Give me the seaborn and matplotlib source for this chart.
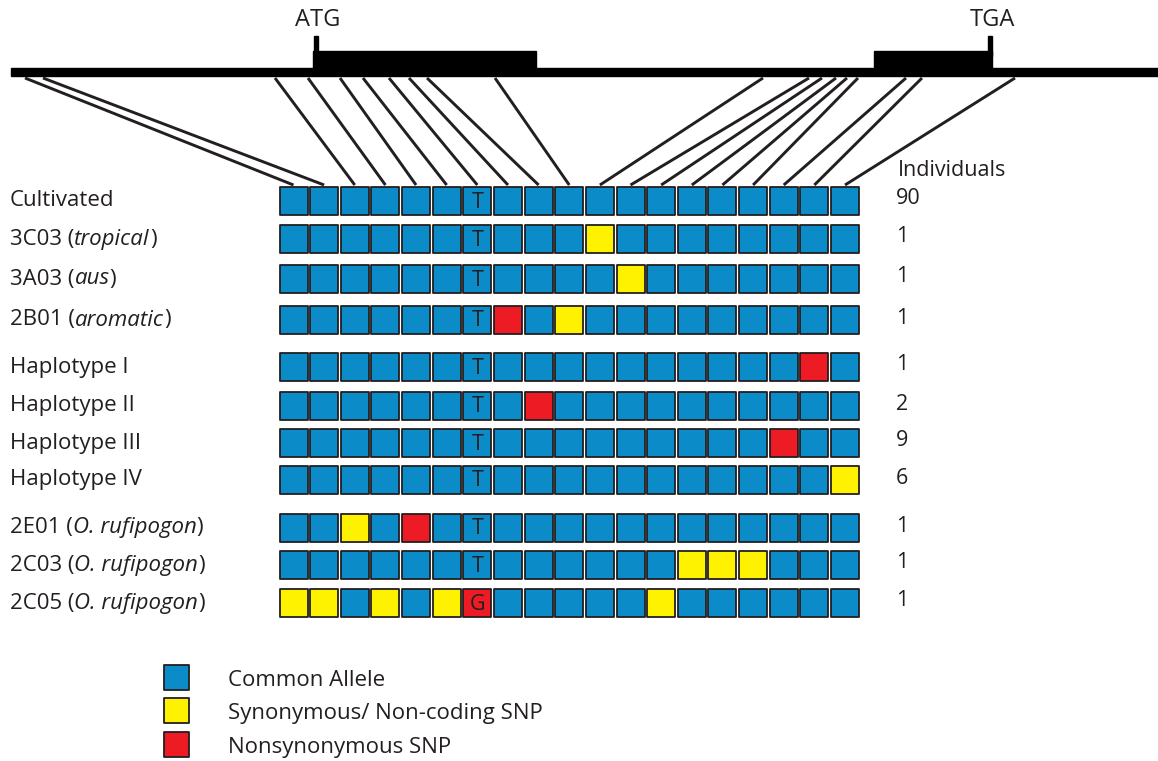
import numpy as np
import pandas as pd
import matplotlib
matplotlib.use("Agg")
import matplotlib.pyplot as plt
from matplotlib.patches import Rectangle
import seaborn as sns

# ---------------- data ----------------
row_labels = [
    [("Cultivated", "normal")],
    [("3C03 (", "normal"), ("tropical", "italic"), (")", "normal")],
    [("3A03 (", "normal"), ("aus", "italic"), (")", "normal")],
    [("2B01 (", "normal"), ("aromatic", "italic"), (")", "normal")],
    [("Haplotype I", "normal")],
    [("Haplotype II", "normal")],
    [("Haplotype III", "normal")],
    [("Haplotype IV", "normal")],
    [("2E01 (", "normal"), ("O. rufipogon", "italic"), (")", "normal")],
    [("2C03 (", "normal"), ("O. rufipogon", "italic"), (")", "normal")],
    [("2C05 (", "normal"), ("O. rufipogon", "italic"), (")", "normal")],
]
individuals = [90, 1, 1, 1, 1, 2, 9, 6, 1, 1, 1]
n_sites = 19
# synonymous / non-coding SNP sites (column index) per row
syn_sites = [[], [10], [11], [9], [], [], [], [18], [2], [13, 14, 15], [0, 1, 3, 5, 12]]
# nonsynonymous SNP sites per row
nonsyn_sites = [[], [], [], [7], [17], [8], [16], [], [4], [], [6]]
base_site = 6
bases = ["T", "T", "T", "T", "T", "T", "T", "T", "T", "T", "G"]
# position of each SNP site along the gene model (pixel scale of the gene line)
site_gene_pos = [25, 43, 275, 308, 340, 363, 389, 409, 427, 495,
                 763, 809, 822, 836, 847, 858, 906, 922, 1015]
exon_start = [313, 874]
exon_end = [536, 992]
codon_labels = ["ATG", "TGA"]
codon_pos = [316, 990]
legend_labels = ["Common Allele", "Synonymous/ Non-coding SNP", "Nonsynonymous SNP"]
states = ["common", "syn", "nonsyn"]

# ---------------- style ----------------
BLUE = "#0B8BC8"
YELLOW = "#FFF200"
RED = "#ED1C24"
DARK = "#231F20"
palette = {"common": BLUE, "syn": YELLOW, "nonsyn": RED}

sns.set_theme(style="white")
plt.rcParams["font.family"] = ["Open Sans", "DejaVu Sans"]

W, H = 1158, 761
fig = plt.figure(figsize=(W / 100, H / 100), dpi=100)
ax = fig.add_axes([0, 0, 1, 1])

# layout
row_y = [201, 239, 279, 320, 367, 406, 443, 480, 528, 565, 603]
col_x0, col_pitch = 293.5, 30.64
cell_px = 28.0
cell_pt = cell_px * 72 / 100
LBL_FS = 16

def col_x(i):
    return col_x0 + col_pitch * i

# build long-form table of cells
recs = []
for r in range(len(row_y)):
    for c in range(n_sites):
        st = "common"
        if c in syn_sites[r]:
            st = "syn"
        if c in nonsyn_sites[r]:
            st = "nonsyn"
        recs.append({"row": r, "site": c, "x": col_x(c), "y": row_y[r], "state": st})
df = pd.DataFrame(recs)

sns.scatterplot(data=df, x="x", y="y", hue="state", palette=palette, marker="s",
                s=cell_pt ** 2, edgecolor=DARK, linewidth=1.3, legend=False,
                ax=ax, zorder=3)

# base letters
for r, b in enumerate(bases):
    ax.text(col_x(base_site), row_y[r] + 1, b, ha="center", va="center",
            fontsize=15.5, color=DARK, zorder=4)

# gene model
line_y = 72
ax.add_patch(Rectangle((11, line_y - 4), W - 11, 8, color="black", zorder=2))
for s, e in zip(exon_start, exon_end):
    ax.add_patch(Rectangle((s, 51), e - s, line_y - 51, color="black", zorder=2))
for lab, p in zip(codon_labels, codon_pos):
    ax.add_patch(Rectangle((p - 2, 36), 4, 20, color="black", zorder=2))
    ax.text(p + 2, 20, lab, ha="center", va="center", fontsize=17, color=DARK)

# connectors
for c, gp in enumerate(site_gene_pos):
    ax.plot([gp, col_x(c)], [78, 185], color=DARK, lw=2.1, solid_capstyle="butt", zorder=1)

# row labels (mixed roman / italic)
for r, parts in enumerate(row_labels):
    t = ax.text(10, row_y[r], parts[0][0], style=parts[0][1], ha="left", va="center",
                fontsize=LBL_FS, color=DARK)
    for s, stl in parts[1:]:
        t = ax.annotate(s, xy=(1, 0), xycoords=t, xytext=(0, 0), textcoords="offset points",
                        ha="left", va="bottom", style=stl, fontsize=LBL_FS, color=DARK)

# individuals
ax.text(898, 171, "Individuals", ha="left", va="center", fontsize=15.5, color=DARK)
for r, n in enumerate(individuals):
    ax.text(896, row_y[r] - 2, str(n), ha="left", va="center", fontsize=15.5, color=DARK)

# legend
leg_y = [677, 710, 744]
leg_df = pd.DataFrame({"x": [176] * 3, "y": leg_y, "state": states})
sns.scatterplot(data=leg_df, x="x", y="y", hue="state", palette=palette, marker="s",
                s=(25 * 72 / 100) ** 2, edgecolor=DARK, linewidth=1.3, legend=False,
                ax=ax, zorder=3)
for lab, y in zip(legend_labels, leg_y):
    ax.text(228, y + 3, lab, ha="left", va="center", fontsize=16, color=DARK)

ax.set_xlim(0, W)
ax.set_ylim(H, 0)
ax.set_xlabel("")
ax.set_ylabel("")
ax.axis("off")
fig.savefig("out.png", dpi=100, facecolor="white")
